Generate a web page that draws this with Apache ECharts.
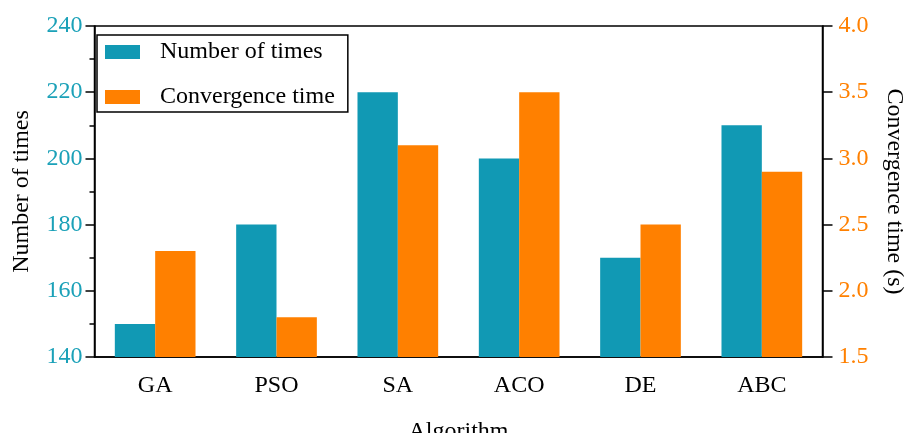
<!DOCTYPE html>
<html>
<head>
<meta charset="utf-8">
<script src="https://cdn.jsdelivr.net/npm/echarts@6/dist/echarts.min.js"></script>
<style>html,body{margin:0;padding:0;background:#fff}#c{width:910px;height:433px}</style>
</head>
<body>
<div id="c"></div>
<script>
const categories = ['GA', 'PSO', 'SA', 'ACO', 'DE', 'ABC'];
const numberOfTimes = [150, 180, 220, 200, 170, 210];
const convergenceTime = [2.3, 1.8, 3.1, 3.5, 2.5, 2.9];
const leftTicks = { min: 140, max: 240, interval: 20 };
const rightTicks = { min: 1.5, max: 4.0, interval: 0.5 };

const FONT = "'Liberation Serif', 'Times New Roman', serif";
const TEAL = '#1199B4';
const ORANGE = '#FF8000';

const chart = echarts.init(document.getElementById('c'), null, { renderer: 'canvas' });
chart.setOption({
  animation: false,
  backgroundColor: '#fff',
  textStyle: { fontFamily: FONT },
  grid: {
    left: 94.5, right: 87.5, top: 26, bottom: 76,
    outerBoundsMode: 'none',
    containLabel: false,
    show: true, borderColor: '#000', borderWidth: 1.5, backgroundColor: 'transparent'
  },
  legend: {
    orient: 'vertical',
    left: 97, top: 35,
    padding: [5, 13, 3, 8],
    itemWidth: 35, itemHeight: 14, itemGap: 21,
    borderColor: '#000', borderWidth: 1.5, borderRadius: 0,
    icon: 'rect',
    textStyle: { fontFamily: FONT, fontSize: 24, color: '#000', padding: [0, 0, 0, 15] },
    data: ['Number of times', 'Convergence time']
  },
  xAxis: {
    type: 'category',
    data: categories,
    name: 'Algorithm',
    nameLocation: 'middle',
    nameGap: 63,
    nameTextStyle: { fontFamily: FONT, fontSize: 24, color: '#000' },
    axisLine: { lineStyle: { color: '#000', width: 1.5 } },
    axisTick: { alignWithLabel: true, length: 8, lineStyle: { color: '#000', width: 1.5 } },
    axisLabel: { fontFamily: FONT, fontSize: 24, color: '#000', margin: 17 },
    splitLine: { show: false }
  },
  yAxis: [
    {
      type: 'value',
      position: 'left',
      min: leftTicks.min, max: leftTicks.max, interval: leftTicks.interval,
      name: 'Number of times',
      nameLocation: 'middle',
      nameGap: 61,
      nameTextStyle: { fontFamily: FONT, fontSize: 24, color: '#000' },
      axisLine: { show: true, lineStyle: { color: '#000', width: 1.5 } },
      axisTick: { show: true, length: 9, lineStyle: { color: '#000', width: 1.5 } },
      minorTick: { show: true, splitNumber: 2, length: 5, lineStyle: { color: '#000', width: 1.5 } },
      axisLabel: { fontFamily: FONT, fontSize: 24, color: '#1BA1B8', margin: 12 },
      splitLine: { show: false }
    },
    {
      type: 'value',
      position: 'right',
      min: rightTicks.min, max: rightTicks.max, interval: rightTicks.interval,
      name: 'Convergence time (s)',
      nameLocation: 'middle',
      nameGap: 60,
      nameRotate: -90,
      nameTextStyle: { fontFamily: FONT, fontSize: 24, color: '#000' },
      axisLine: { show: true, lineStyle: { color: '#000', width: 1.5 } },
      axisTick: { show: true, length: 10, lineStyle: { color: '#000', width: 1.5 } },
      axisLabel: { fontFamily: FONT, fontSize: 24, color: ORANGE, margin: 16,
        formatter: v => v.toFixed(1) },
      splitLine: { show: false }
    }
  ],
  series: [
    {
      name: 'Number of times',
      type: 'bar',
      yAxisIndex: 0,
      data: numberOfTimes,
      itemStyle: { color: TEAL },
      barGap: '0%',
      barCategoryGap: '33.5%'
    },
    {
      name: 'Convergence time',
      type: 'bar',
      yAxisIndex: 1,
      data: convergenceTime,
      itemStyle: { color: ORANGE },
      barGap: '0%',
      barCategoryGap: '33.5%'
    }
  ]
});
</script>
</body>
</html>
